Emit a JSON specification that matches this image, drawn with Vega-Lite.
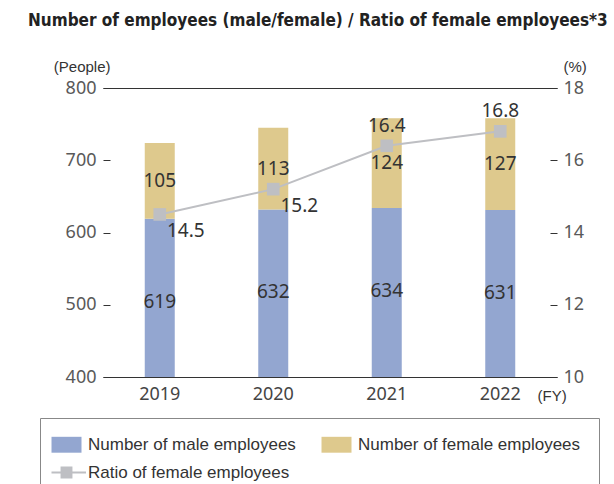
{
  "$schema": "https://vega.github.io/schema/vega-lite/v6.json",
  "width": 454,
  "height": 289,
  "autosize": "none",
  "padding": {"left": 103, "top": 88, "right": 57, "bottom": 107},
  "background": "white",
  "config": {"view": {"stroke": null}, "font": "Liberation Sans"},
  "title": {
    "text": "Number of employees (male/female) / Ratio of female employees*3",
    "anchor": "start",
    "frame": "group",
    "font": "DejaVu Sans Condensed, Liberation Sans",
    "fontSize": 17,
    "fontWeight": "bold",
    "color": "#222222",
    "dx": -75,
    "offset": 29
  },
  "datasets": {
    "bars": [
      {"year": "2019", "series": "Number of male employees", "value": 619},
      {"year": "2019", "series": "Number of female employees", "value": 105},
      {"year": "2020", "series": "Number of male employees", "value": 632},
      {"year": "2020", "series": "Number of female employees", "value": 113},
      {"year": "2021", "series": "Number of male employees", "value": 634},
      {"year": "2021", "series": "Number of female employees", "value": 124},
      {"year": "2022", "series": "Number of male employees", "value": 631},
      {"year": "2022", "series": "Number of female employees", "value": 127}
    ],
    "ratio": [
      {"year": "2019", "series": "Ratio of female employees", "ratio": 14.5},
      {"year": "2020", "series": "Ratio of female employees", "ratio": 15.2},
      {"year": "2021", "series": "Ratio of female employees", "ratio": 16.4},
      {"year": "2022", "series": "Ratio of female employees", "ratio": 16.8}
    ]
  },
  "encoding": {
    "x": {
      "field": "year",
      "type": "ordinal",
      "scale": {"paddingInner": 0, "paddingOuter": 0},
      "axis": {
        "title": "(FY)",
        "titleAngle": 0,
        "titleX": 434,
        "titleY": 18,
        "titleAlign": "left",
        "titleBaseline": "middle",
        "titleFont": "Liberation Sans",
        "titleFontSize": 15,
        "titleFontWeight": "normal",
        "titleColor": "#333333",
        "labelAngle": 0,
        "ticks": false,
        "domainColor": "#333333",
        "labelPadding": 8,
        "labelFont": "Noto Sans",
        "labelFontSize": 18,
        "labelColor": "#444444"
      }
    }
  },
  "layer": [
    {
      "layer": [
        {
          "data": {"name": "bars"},
          "mark": {"type": "bar", "size": 30, "clip": true},
          "encoding": {
            "y": {
              "field": "value",
              "type": "quantitative",
              "stack": "zero",
              "scale": {"domain": [400, 800]},
              "axis": {
                "title": "(People)",
                "titleAngle": 0,
                "titleAlign": "right",
                "titleX": 7,
                "titleY": -22,
                "titleBaseline": "middle",
                "titleFont": "Liberation Sans",
                "titleFontSize": 15,
                "titleFontWeight": "normal",
                "titleColor": "#333333",
                "values": [400, 500, 600, 700, 800],
                "grid": true,
                "gridColor": "#333333",
                "gridOpacity": {"condition": {"test": "datum.value === 800", "value": 1}, "value": 0},
                "domain": false,
                "ticks": true,
                "tickSize": -7,
                "tickColor": "#333333",
                "labelPadding": 14,
                "labelFont": "Noto Sans",
                "labelFontSize": 18,
                "labelColor": "#595959"
              }
            },
            "color": {
              "field": "series",
              "type": "nominal",
              "scale": {
                "domain": ["Number of male employees", "Number of female employees", "Ratio of female employees"],
                "range": ["#93A6D0", "#DEC98D", "#BEBFC3"]
              },
              "legend": {
                "orient": "none",
                "direction": "horizontal",
                "legendX": -63,
                "legendY": 330,
                "columns": 2,
                "title": null,
                "symbolSize": 900,
                "labelFont": "Liberation Sans",
                "labelFontSize": 17,
                "labelColor": "#333333",
                "labelOffset": 13,
                "labelLimit": 300,
                "columnPadding": 25,
                "rowPadding": 10,
                "padding": 18,
                "strokeColor": "#888888",
                "fillColor": "white",
                "encode": {
                  "symbols": {
                    "update": {
                      "shape": {"signal": "datum.value === 'Ratio of female employees' ? 'M-1,0H1.3M-0.33,-0.33H0.33V0.33H-0.33Z' : 'M-1,-0.53H1V0.53H-1Z'"},
                      "fill": {"scale": "color", "field": "value"},
                      "stroke": {"scale": "color", "field": "value"},
                      "strokeWidth": {"signal": "datum.value === 'Ratio of female employees' ? 2 : 0"},
                      "opacity": {"value": 1},
                      "fillOpacity": {"value": 1}
                    }
                  }
                }
              }
            },
            "order": {"field": "series", "sort": "descending"}
          }
        },
        {
          "data": {"name": "bars"},
          "transform": [{"filter": "datum.series === 'Number of male employees'"}],
          "mark": {"type": "text", "dy": 83, "font": "Noto Sans", "fontSize": 19, "color": "#333333"},
          "encoding": {
            "y": {"field": "value", "type": "quantitative"},
            "text": {"field": "value", "type": "quantitative"}
          }
        },
        {
          "data": {"name": "bars"},
          "mark": {"type": "text", "font": "Noto Sans", "fontSize": 19, "color": "#333333"},
          "encoding": {
            "y": {"field": "value", "type": "quantitative", "stack": "zero", "bandPosition": 0.5},
            "detail": {"field": "series"},
            "order": {"field": "series", "sort": "descending"},
            "text": {
              "condition": {"test": "datum.series === 'Number of male employees'", "value": ""},
              "field": "value",
              "type": "quantitative"
            }
          }
        }
      ]
    },
    {
      "data": {"name": "ratio"},
      "layer": [
        {
          "mark": {"type": "line", "strokeWidth": 2},
          "encoding": {
            "y": {
              "field": "ratio",
              "type": "quantitative",
              "scale": {"domain": [10, 18]},
              "axis": {
                "orient": "right",
                "title": "(%)",
                "titleAngle": 0,
                "titleAlign": "left",
                "titleX": 6,
                "titleY": -22,
                "titleBaseline": "middle",
                "titleFont": "Liberation Sans",
                "titleFontSize": 15,
                "titleFontWeight": "normal",
                "titleColor": "#333333",
                "values": [10, 12, 14, 16, 18],
                "grid": false,
                "domain": false,
                "ticks": true,
                "tickSize": -7,
                "tickColor": "#333333",
                "labelPadding": 13,
                "labelFont": "Noto Sans",
                "labelFontSize": 18,
                "labelColor": "#595959"
              }
            },
            "color": {"field": "series", "type": "nominal"}
          }
        },
        {
          "mark": {"type": "point", "shape": "square", "filled": true, "size": 160, "opacity": 1},
          "encoding": {
            "y": {"field": "ratio", "type": "quantitative"},
            "color": {"field": "series", "type": "nominal"}
          }
        },
        {
          "transform": [{"filter": "datum.year === '2019' || datum.year === '2020'"}],
          "mark": {"type": "text", "dx": 26, "dy": 17, "font": "Noto Sans", "fontSize": 19, "color": "#333333"},
          "encoding": {
            "y": {"field": "ratio", "type": "quantitative"},
            "text": {"field": "ratio", "type": "quantitative", "format": ".1f"}
          }
        },
        {
          "transform": [{"filter": "datum.year === '2021' || datum.year === '2022'"}],
          "mark": {"type": "text", "dy": -20, "font": "Noto Sans", "fontSize": 19, "color": "#333333"},
          "encoding": {
            "y": {"field": "ratio", "type": "quantitative"},
            "text": {"field": "ratio", "type": "quantitative", "format": ".1f"}
          }
        }
      ]
    }
  ],
  "resolve": {"scale": {"y": "independent"}}
}
